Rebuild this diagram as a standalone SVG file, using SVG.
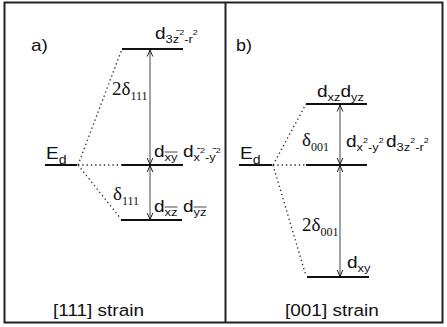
<svg xmlns="http://www.w3.org/2000/svg" width="447" height="327" viewBox="0 0 447 327">
<style>
.lvl{stroke:#111;stroke-width:2;fill:none}
.dot{stroke:#222;stroke-width:1.3;stroke-dasharray:1.3 3;fill:none}
.arr{stroke:#444;stroke-width:1;fill:none;marker-start:url(#ah);marker-end:url(#ah)}
.ov{stroke:#333;stroke-width:0.9}
.s{font-family:"Liberation Sans",Arial,sans-serif;fill:#111;font-size:17px}
.r{font-family:"Liberation Serif","Times New Roman",serif;fill:#111}
.sb{font-size:11.5px}
.sp{font-size:8px}
</style>
<defs>
<marker id="ah" viewBox="0 0 8 8" refX="7.5" refY="4" markerWidth="8" markerHeight="8" markerUnits="userSpaceOnUse" orient="auto-start-reverse">
<path d="M1,1.2 L7.5,4 L1,6.8" fill="none" stroke="#222" stroke-width="1"/>
</marker>
</defs>
<rect x="0" y="0" width="447" height="327" fill="#fff"/>
<g id="frame">
<rect x="4.5" y="2.5" width="438" height="320" fill="none" stroke="#222" stroke-width="2"/>
<line x1="225.5" y1="2.5" x2="225.5" y2="322.5" stroke="#222" stroke-width="2"/>
</g>
<g id="connectors">
<line class="dot" x1="78" y1="165" x2="122" y2="49"/>
<line class="dot" x1="78" y1="165" x2="122" y2="165"/>
<line class="dot" x1="78" y1="165" x2="121" y2="219"/>
<line class="arr" x1="150" y1="50" x2="150" y2="164.5"/>
<line class="arr" x1="150" y1="165.5" x2="150" y2="219.5"/>
<line class="dot" x1="273" y1="165" x2="306" y2="104"/>
<line class="dot" x1="273" y1="165" x2="306" y2="165"/>
<line class="dot" x1="273" y1="165" x2="306" y2="276"/>
<line class="arr" x1="340" y1="105" x2="340" y2="164.5"/>
<line class="arr" x1="340" y1="165.5" x2="340" y2="276.5"/>
</g>
<g id="panel-a">
<text class="s" x="31" y="51" font-size="16" transform="translate(31 51) scale(1.12 1) translate(-31 -51)">a)</text>
<g transform="translate(53 316) scale(1.15 1)"><text class="s" x="0" y="0" style="font-size:16.5px">[111] strain</text></g>
</g>
<g id="a-Ed">
<line class="lvl" x1="45" y1="165" x2="77" y2="165"/>
<g transform="translate(46 159) scale(1.12 1)"><text class="s" x="0" y="0">E<tspan style="font-size:12.5px" dy="5">d</tspan></text></g>
</g>
<g id="a-top">
<line class="lvl" x1="122" y1="49" x2="183" y2="49"/>
<g transform="translate(155 39) scale(1.12 1)">
<text class="s" x="0" y="0">d<tspan class="sb" dy="4">3z</tspan><tspan class="sp" dy="-8">2</tspan><tspan class="sb" dy="8">-r</tspan><tspan class="sp" dy="-8">2</tspan></text>
<line class="ov" x1="19" y1="-8.5" x2="22" y2="-8.5"/>
</g>
</g>
<g id="a-mid">
<line class="lvl" x1="122" y1="165" x2="183" y2="165"/>
<g transform="translate(154 157) scale(1.12 1)">
<text class="s" x="0" y="0">d<tspan class="sb" dy="4">xy</tspan></text>
<line class="ov" x1="9.5" y1="-5" x2="21" y2="-5"/>
</g>
<g transform="translate(183 157) scale(1.12 1)">
<text class="s" x="0" y="0">d<tspan class="sb" dy="4">x</tspan><tspan class="sp" dy="-8">2</tspan><tspan class="sb" dy="8">-y</tspan><tspan class="sp" dy="-8">2</tspan></text>
<line class="ov" x1="12.5" y1="-8.5" x2="15.5" y2="-8.5"/>
<line class="ov" x1="26.5" y1="-8.5" x2="29.5" y2="-8.5"/>
</g>
<text class="r" x="112" y="95" font-size="19">2δ<tspan font-size="12" dy="5">111</tspan></text>
</g>
<g id="a-low">
<line class="lvl" x1="121" y1="220" x2="182" y2="220"/>
<g transform="translate(154 212) scale(1.12 1)">
<text class="s" x="0" y="0">d<tspan class="sb" dy="4">xz</tspan></text>
<line class="ov" x1="9.5" y1="-5" x2="21" y2="-5"/>
</g>
<g transform="translate(183 212) scale(1.12 1)">
<text class="s" x="0" y="0">d<tspan class="sb" dy="4">yz</tspan></text>
<line class="ov" x1="9.5" y1="-5" x2="21" y2="-5"/>
</g>
<text class="r" x="113" y="200" font-size="19">δ<tspan font-size="12" dy="5">111</tspan></text>
</g>
<g id="panel-b">
<g transform="translate(236 51) scale(1.12 1)"><text class="s" x="0" y="0" style="font-size:16px">b)</text></g>
<g transform="translate(285 316) scale(1.15 1)"><text class="s" x="0" y="0" style="font-size:16.5px">[001] strain</text></g>
</g>
<g id="b-Ed">
<line class="lvl" x1="239" y1="165" x2="272" y2="165"/>
<g transform="translate(240 159) scale(1.12 1)"><text class="s" x="0" y="0">E<tspan style="font-size:12.5px" dy="5">d</tspan></text></g>
</g>
<g id="b-top">
<line class="lvl" x1="306" y1="104" x2="367" y2="104"/>
<g transform="translate(317 97) scale(1.12 1)">
<text class="s" x="0" y="0">d<tspan class="sb" dy="4">xz</tspan><tspan dy="-4">d</tspan><tspan class="sb" dy="4">yz</tspan></text>
</g>
<text class="r" x="302" y="146" font-size="19">δ<tspan font-size="12" dy="5">001</tspan></text>
</g>
<g id="b-mid">
<line class="lvl" x1="306" y1="165" x2="367" y2="165"/>
<g transform="translate(346 147) scale(1.12 1)">
<text class="s" x="0" y="0">d<tspan class="sb" dy="4">x</tspan><tspan class="sp" dy="-8">2</tspan><tspan class="sb" dy="8">-y</tspan><tspan class="sp" dy="-8">2</tspan></text>
</g>
<g transform="translate(386 147) scale(1.12 1)">
<text class="s" x="0" y="0">d<tspan class="sb" dy="4">3z</tspan><tspan class="sp" dy="-8">2</tspan><tspan class="sb" dy="8">-r</tspan><tspan class="sp" dy="-8">2</tspan></text>
</g>
</g>
<g id="b-low">
<line class="lvl" x1="307" y1="277" x2="369" y2="277"/>
<g transform="translate(347 268) scale(1.12 1)">
<text class="s" x="0" y="0">d<tspan class="sb" dy="4">xy</tspan></text>
</g>
<text class="r" x="302" y="231" font-size="19">2δ<tspan font-size="12" dy="5">001</tspan></text>
</g>
</svg>
